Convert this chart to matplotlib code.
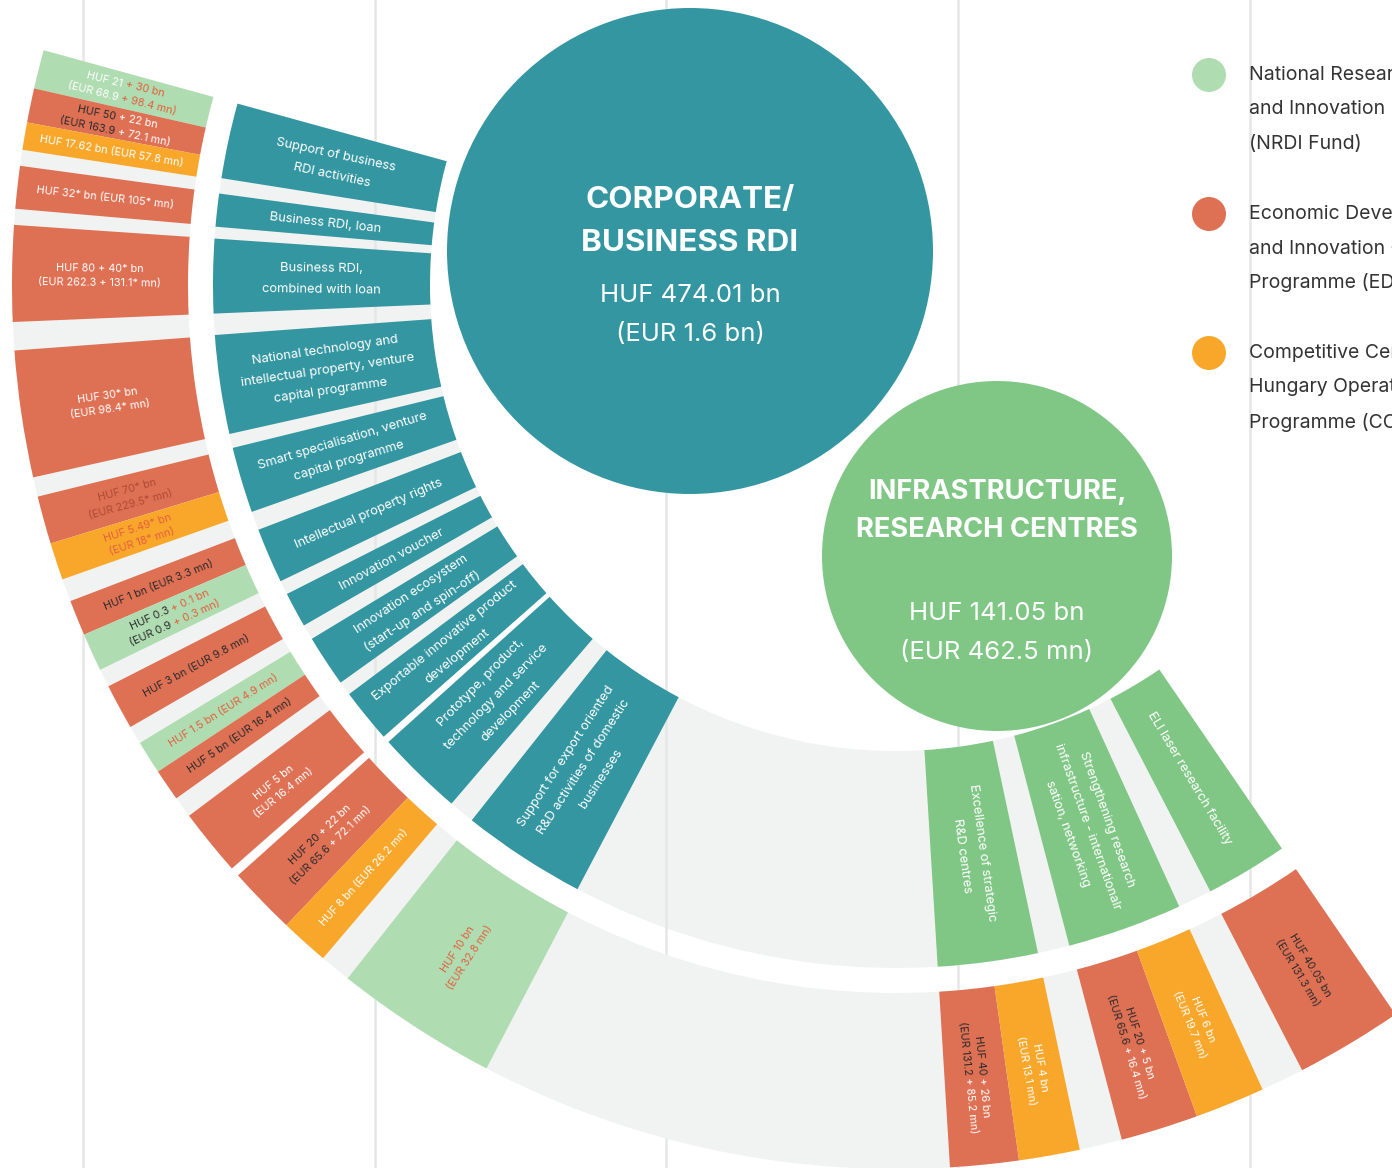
import numpy as np
import matplotlib
matplotlib.use('Agg')
import matplotlib.pyplot as plt
from matplotlib.patches import Wedge, Circle

plt.rcParams['font.family'] = ['Inter', 'DejaVu Sans']

W, H = 1392, 1168

# ---- data ---------------------------------------------------------------
programmes = [
    'Support of business\nRDI activities',
    'Business RDI, loan',
    'Business RDI,\ncombined with loan',
    'National technology and\nintellectual property, venture\ncapital programme',
    'Smart specialisation, venture\ncapital programme',
    'Intellectual property rights',
    'Innovation voucher',
    'Innovation ecosystem\n(start-up and spin-off)',
    'Exportable innovative product\ndevelopment',
    'Prototype, product,\ntechnology and service\ndevelopment',
    'Support for export oriented\nR&D activities of domestic\nbusinesses',
    'Excellence of strategic\nR&D centres',
    'Strengthening research\ninfrastructure - internationalr\nsation, networking',
    'ELI laser research facility',
]
programme_area = ['corp'] * 11 + ['infra'] * 3

# funding pieces of the outer ring, in ring order
fund_source = ['NRDI', 'EDIOP', 'CCHOP', 'EDIOP', 'EDIOP', 'EDIOP', 'EDIOP', 'CCHOP',
               'EDIOP', 'NRDI', 'EDIOP', 'NRDI', 'EDIOP', 'EDIOP', 'EDIOP', 'CCHOP',
               'NRDI', 'EDIOP', 'CCHOP', 'EDIOP', 'CCHOP', 'EDIOP']
fund_text = [
    'HUF 21 + 30 bn\n(EUR 68.9 + 98.4 mn)',
    'HUF 50 + 22 bn\n(EUR 163.9 + 72.1 mn)',
    'HUF 17.62 bn (EUR 57.8 mn)',
    'HUF 32* bn (EUR 105* mn)',
    'HUF 80 + 40* bn\n(EUR 262.3 + 131.1* mn)',
    'HUF 30* bn\n(EUR 98.4* mn)',
    'HUF 70* bn\n(EUR 229.5* mn)',
    'HUF 5.49* bn\n(EUR 18* mn)',
    'HUF 1 bn (EUR 3.3 mn)',
    'HUF 0.3 + 0.1 bn\n(EUR 0.9 + 0.3 mn)',
    'HUF 3 bn (EUR 9.8 mn)',
    'HUF 1.5 bn (EUR 4.9 mn)',
    'HUF 5 bn (EUR 16.4 mn)',
    'HUF 5 bn\n(EUR 16.4 mn)',
    'HUF 20 + 22 bn\n(EUR 65.6 + 72.1 mn)',
    'HUF 8 bn (EUR 26.2 mn)',
    'HUF 10 bn\n(EUR 32.8 mn)',
    'HUF 40 + 26 bn\n(EUR 131.2 + 85.2 mn)',
    'HUF 4 bn\n(EUR 13.1 mn)',
    'HUF 20 + 5 bn\n(EUR 65.6 + 16.4 mn)',
    'HUF 6 bn\n(EUR 19.7 mn)',
    'HUF 40.05 bn\n(EUR 131.3 mn)',
]
# ink before / after the "+" (top-up amounts are often coloured apart)
fund_ink = [('w', 'r'), ('k', 'w'), ('w', 'w'), ('w', 'w'), ('w', 'w'), ('w', 'w'),
            ('m', 'm'), ('r', 'r'), ('k', 'k'), ('k', 'r'), ('k', 'k'), ('r', 'r'),
            ('k', 'k'), ('w', 'w'), ('k', 'w'), ('w', 'w'), ('r', 'r'), ('k', 'w'),
            ('w', 'w'), ('k', 'w'), ('w', 'w'), ('k', 'k')]

hub_title = [['CORPORATE/', 'BUSINESS RDI'], ['INFRASTRUCTURE,', 'RESEARCH CENTRES']]
hub_money = [['HUF 474.01 bn', '(EUR 1.6 bn)'], ['HUF 141.05 bn', '(EUR 462.5 mn)']]

sources = ['NRDI', 'EDIOP', 'CCHOP']
source_names = [
    ['National Research, Development', 'and Innovation Fund', '(NRDI Fund)'],
    ['Economic Development', 'and Innovation Operational', 'Programme (EDIOP)'],
    ['Competitive Central', 'Hungary Operational', 'Programme (CCHOP)'],
]

# ---- layout (angles in degrees, ring centre off to the upper right) ----
CX, CY = 896, H - 285
R1, R2, R3, R4 = 466, 683, 708, 884
prog_span = [(164.6, 171.0), (172.3, 175.1), (176.1, 182.4), (184.2, 192.6),
             (193.8, 199.4), (201.0, 205.7), (206.9, 209.9), (211.2, 215.6),
             (216.8, 221.4), (222.0, 229.4), (231.6, 242.2), (273.5, 282.0),
             (284.7, 294.5), (297.4, 304.4)]
fund_span = [(164.6, 167.15), (167.15, 169.4), (169.4, 171.2), (172.25, 175.05),
             (176.1, 182.4), (184.25, 192.57), (193.85, 197.0), (197.0, 199.45),
             (200.95, 203.3), (203.3, 205.8), (207.0, 210.0), (211.2, 213.4),
             (213.4, 215.5), (216.9, 221.3), (221.9, 226.4), (226.4, 229.6),
             (231.66, 242.4), (273.5, 278.0), (278.0, 282.0), (284.8, 289.9),
             (289.9, 294.5), (297.35, 304.4)]
grey_bands = [(164.6, 221.35), (221.95, 304.4)]
hub_xy = [(690, H - 251, 243), (997, H - 556, 175)]
hub_title_y = [[200, 243], [492, 530]]
hub_title_size = [22.6, 19.7]
hub_money_y = [[295, 334], [614, 652]]
grid_x = [83, 375, 666, 958, 1250]

TEAL, GREEN, GREY = '#3396a1', '#80c785', '#f1f3f2'
src_col = {'NRDI': '#b0dcb2', 'EDIOP': '#de7054', 'CCHOP': '#f9a72b'}
ink = {'w': 'white', 'k': '#2b2b2b', 'r': '#e3603e', 'm': '#b04a31'}

fig = plt.figure(figsize=(W / 100, H / 100), dpi=100)
ax = fig.add_axes([0, 0, 1, 1])
ax.set_xlim(0, W)
ax.set_ylim(0, H)
ax.axis('off')
renderer = fig.canvas.get_renderer()


def text_w(s, size):
    t = ax.text(0, 0, s, fontsize=size)
    w = t.get_window_extent(renderer).width
    t.remove()
    return w


def ring_label(theta, r, lines, size, lh):
    # lines: list of [(text, colour), ...]; text reads along the radius
    rot = theta - 180 if theta < 270 else theta - 360
    a, b = np.radians(theta), np.radians(rot)
    p = np.array([CX + r * np.cos(a), CY + r * np.sin(a)])
    u = np.array([np.cos(b), np.sin(b)])
    d = np.array([np.sin(b), -np.cos(b)])
    em = size * 100 / 72
    n = len(lines)
    for i, pieces in enumerate(lines):
        texts = [s for s, c in pieces]
        full = text_w(' '.join(texts), size)
        base = p + ((i - (n - 1) / 2) * lh + 0.36 * em) * d - full / 2 * u
        for j, (s, c) in enumerate(pieces):
            off = full - text_w(' '.join(texts[j:]), size) if j else 0
            q = base + off * u
            ax.text(q[0], q[1], s, fontsize=size, color=c, rotation=rot,
                    rotation_mode='anchor', ha='left', va='baseline', zorder=5)


# inner grey band sits under the guide lines, outer one on top of them
for t1, t2 in grey_bands:
    ax.add_patch(Wedge((CX, CY), R2, t1, t2, width=R2 - R1, color=GREY, lw=0, zorder=0))
    ax.add_patch(Wedge((CX, CY), R4, t1, t2, width=R4 - R3, color=GREY, lw=0, zorder=1.5))

for x in grid_x:
    ax.plot([x, x], [0, H], color='#e6e6e6', lw=1.8, zorder=1)

# inner ring: programmes
for name, area, (t1, t2) in zip(programmes, programme_area, prog_span):
    ax.add_patch(Wedge((CX, CY), R2, t1, t2, width=R2 - R1,
                       color=TEAL if area == 'corp' else GREEN, lw=0, zorder=2))
    ring_label((t1 + t2) / 2, (R1 + R2) / 2,
               [[(s, 'white')] for s in name.split('\n')], 9.3, 20.5)

# outer ring: funding sources
for src, txt, (c1, c2), (t1, t2) in zip(fund_source, fund_text, fund_ink, fund_span):
    ax.add_patch(Wedge((CX, CY), R4, t1, t2, width=R4 - R3,
                       color=src_col[src], lw=0, zorder=2))
    lines = []
    for ln in txt.split('\n'):
        if ' + ' in ln and c1 != c2:
            a, b = ln.split(' + ', 1)
            lines.append([(a, ink[c1]), ('+ ' + b, ink[c2])])
        else:
            lines.append([(ln, ink[c1])])
    ring_label((t1 + t2) / 2, (R3 + R4) / 2, lines, 7.8, 14.5)

# summary circles
for (hx, hy, hr), col, title, money, ty, ts, my in zip(
        hub_xy, [TEAL, GREEN], hub_title, hub_money, hub_title_y, hub_title_size, hub_money_y):
    ax.add_patch(Circle((hx, hy), hr, color=col, lw=0, zorder=2))
    for s, y in zip(title, ty):
        ax.text(hx, H - y, s, fontsize=ts, fontweight='bold', color='white',
                ha='center', va='center', zorder=5)
    for s, y in zip(money, my):
        ax.text(hx, H - y, s, fontsize=18.5, color='white',
                ha='center', va='center', zorder=5)

# legend (runs off the right edge, as in the source layout)
for k, (src, names) in enumerate(zip(sources, source_names)):
    y0 = 75 + 139 * k
    ax.add_patch(Circle((1209, H - y0), 17, color=src_col[src], lw=0, zorder=3))
    for j, s in enumerate(names):
        ax.text(1249, H - (y0 + 34.5 * j), s, fontsize=14, color='#333333',
                ha='left', va='center', zorder=5)

fig.savefig('out.png', dpi=100, facecolor='white')
